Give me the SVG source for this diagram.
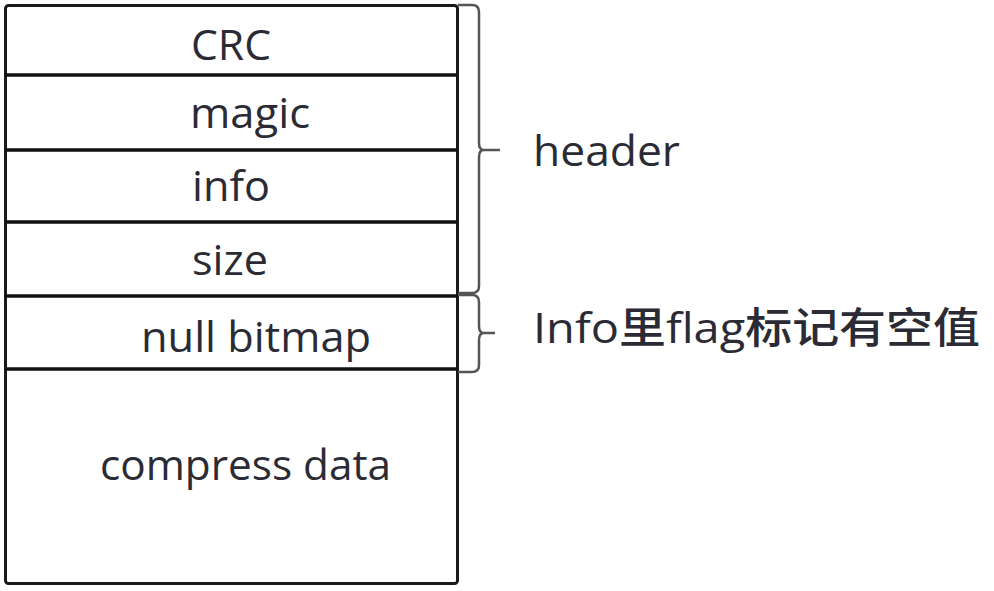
<svg xmlns="http://www.w3.org/2000/svg" width="994" height="591" viewBox="0 0 994 591">
<style>
.lbl{font-family:"Open Sans","Noto Sans","Noto Sans CJK SC",sans-serif;font-size:42px;font-weight:500;fill:#2b2b35}
.cjk{font-family:"Open Sans","Noto Sans CJK SC",sans-serif;font-size:42px;font-weight:500;fill:#2b2b35}
.box{fill:none;stroke:#1a1a1a;stroke-width:3}
.div{stroke:#111;stroke-width:3.5}
.brace{fill:none;stroke:#555;stroke-width:2.5}
</style>
<rect width="994" height="591" fill="#fff"/>
<g id="frame"><rect class="box" x="5.5" y="5.5" width="452" height="578" rx="3"/></g>
<g id="crc"><text class="lbl" x="191" y="60" textLength="80" lengthAdjust="spacingAndGlyphs">CRC</text></g>
<g id="magic"><line class="div" x1="5" y1="75" x2="457" y2="75"/><text class="lbl" x="190" y="128" textLength="120" lengthAdjust="spacingAndGlyphs">magic</text></g>
<g id="info"><line class="div" x1="5" y1="150" x2="457" y2="150"/><text class="lbl" x="192" y="201" textLength="78" lengthAdjust="spacingAndGlyphs">info</text></g>
<g id="size"><line class="div" x1="5" y1="222" x2="457" y2="222"/><text class="lbl" x="192" y="275" textLength="76" lengthAdjust="spacingAndGlyphs">size</text></g>
<g id="nullbitmap"><line class="div" x1="5" y1="296" x2="457" y2="296"/><text class="lbl" x="141" y="352" textLength="230" lengthAdjust="spacingAndGlyphs">null bitmap</text></g>
<g id="compress"><line class="div" x1="5" y1="369" x2="457" y2="369"/><text class="lbl" x="100" y="480" textLength="291" lengthAdjust="spacingAndGlyphs">compress data</text></g>
<g id="connectors">
<path class="brace" d="M458 5 H472 Q479 5 479 12 V143 Q479 150 484 150 H500 M484 150 Q479 150 479 157 V286 Q479 293 472 293 H458"/>
<path class="brace" d="M458 295 H472 Q479 295 479 302 V326 Q479 333 484 333 H495 M484 333 Q479 333 479 340 V365 Q479 372 472 372 H458"/>
</g>
<g id="header"><text class="lbl" x="533" y="166" textLength="147" lengthAdjust="spacingAndGlyphs">header</text></g>
<g id="infoflag"><text class="cjk" x="533" y="343" textLength="447" lengthAdjust="spacingAndGlyphs">Info里flag标记有空值</text></g>
</svg>
